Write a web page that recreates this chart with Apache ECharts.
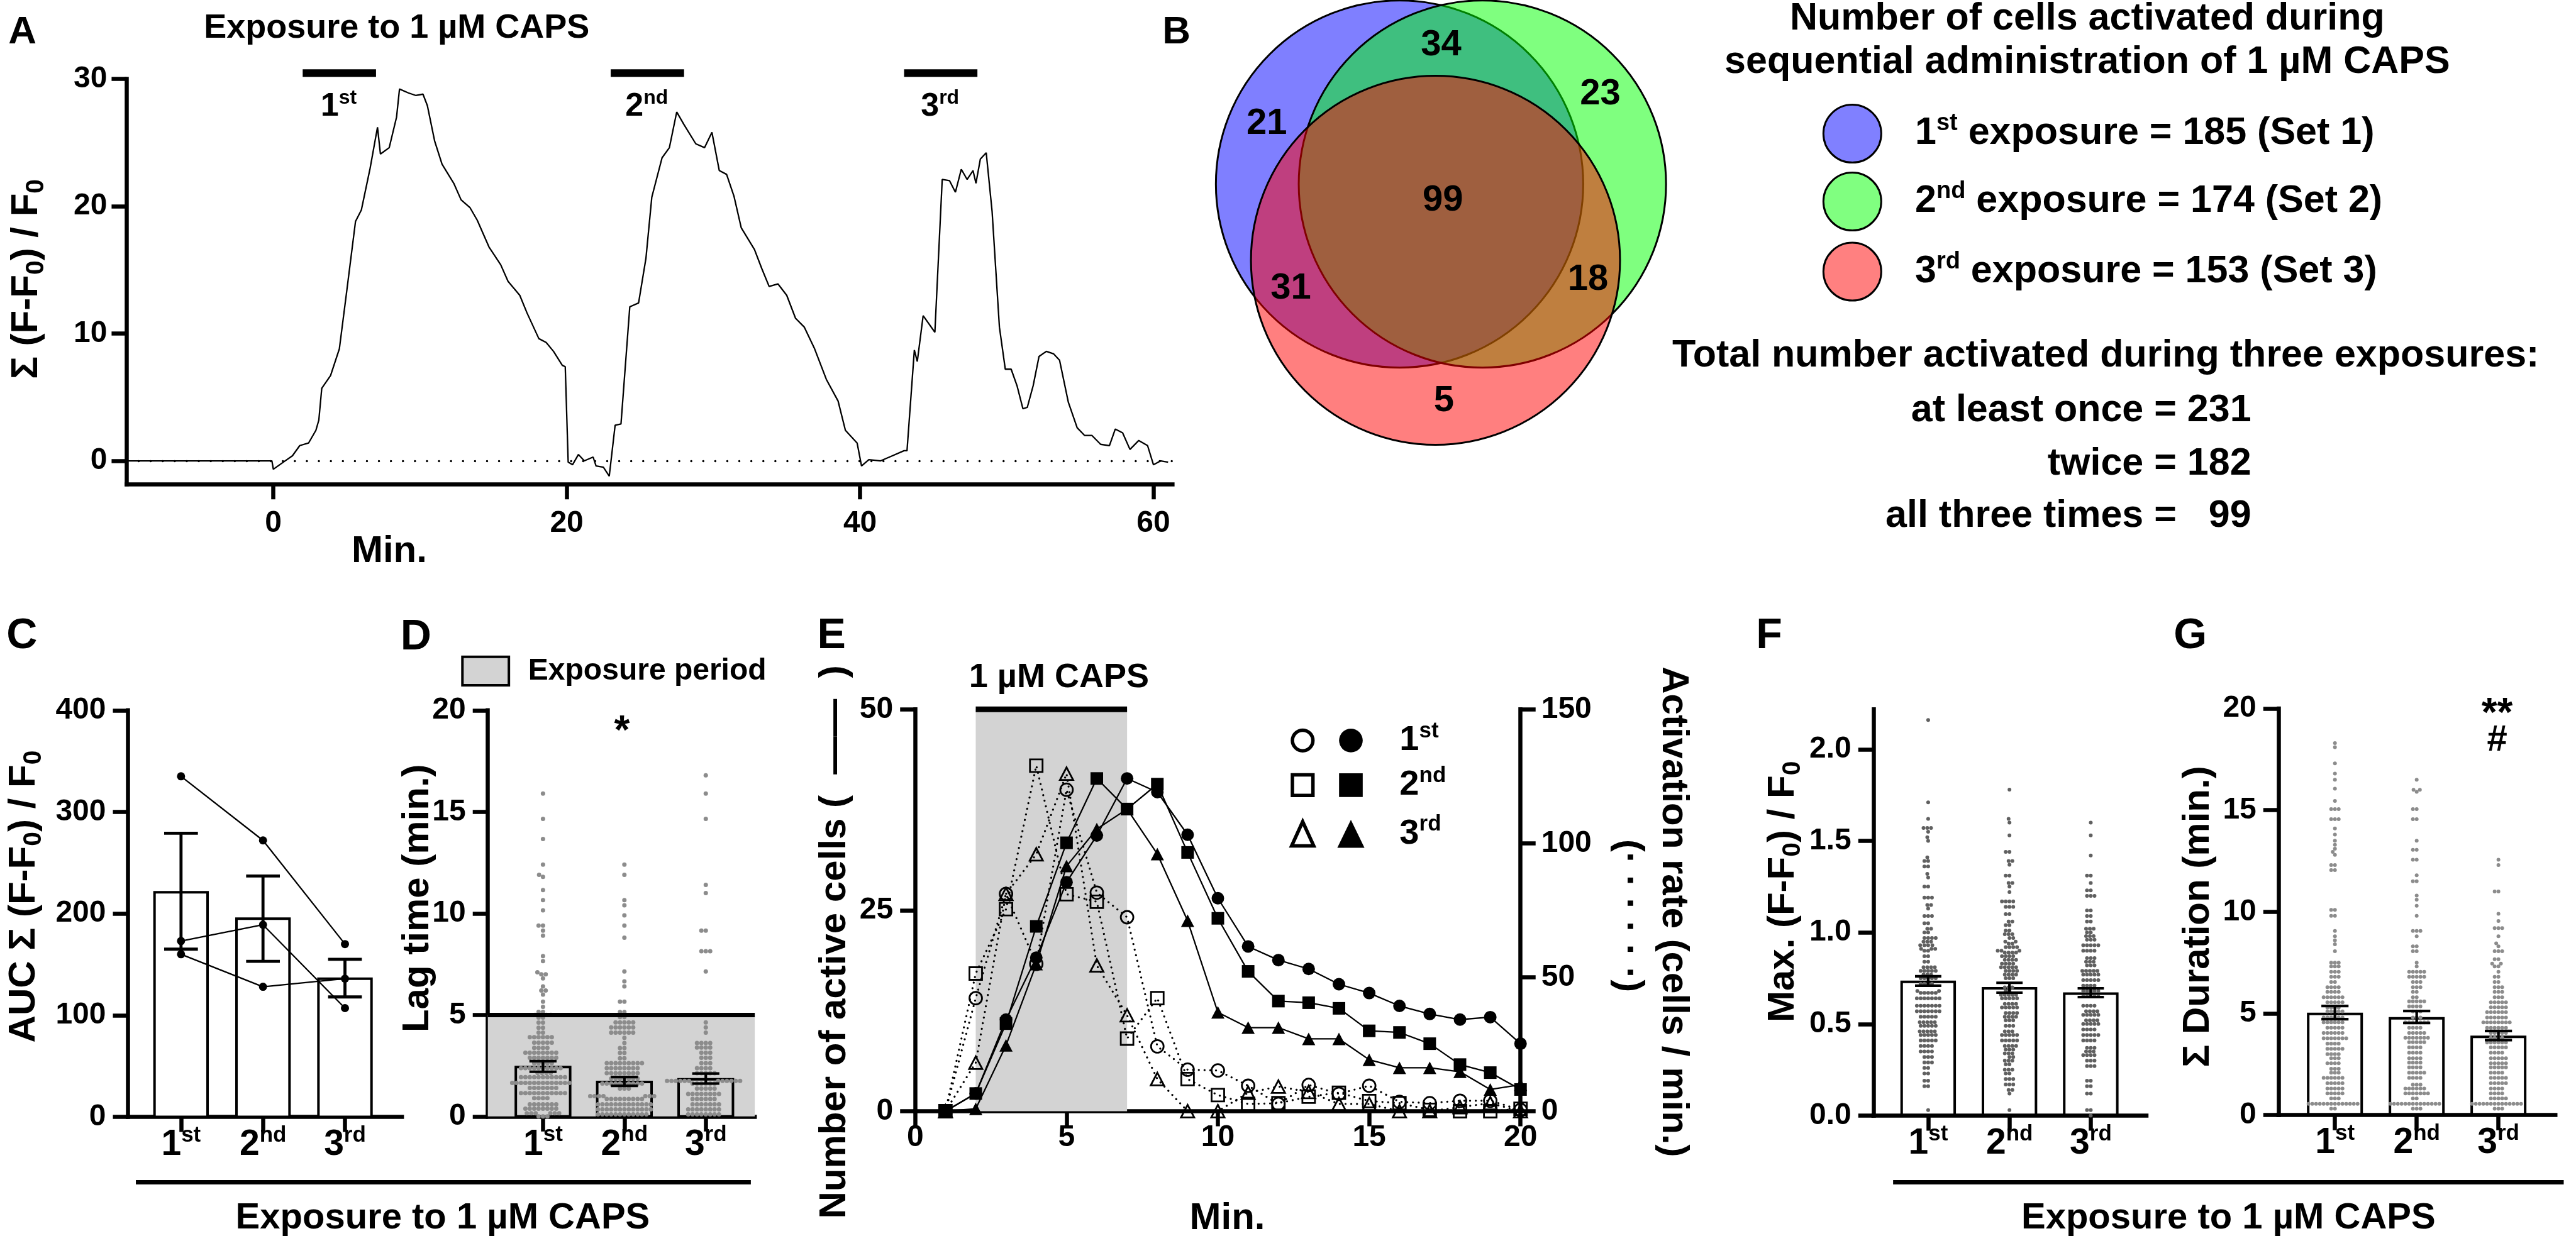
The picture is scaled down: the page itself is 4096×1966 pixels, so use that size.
<!DOCTYPE html>
<html><head><meta charset="utf-8">
<script src="https://cdn.jsdelivr.net/npm/echarts@6.0.0/dist/echarts.min.js"></script>
<style>html,body{margin:0;padding:0;background:#fff;}#chart{width:4096px;height:1966px;}</style>
</head><body><div id="chart"></div>
<script>
// ================= DATA =================
// Panel A: summed response trace
const traceTime = [-10,-0.1,0,0.8,1.3,1.8,2.4,2.9,3.1,3.3,3.9,4.5,5.0,5.6,6.0,6.6,7.1,7.3,7.9,8.4,8.6,9.2,9.7,10.2,10.5,11.0,11.5,12.3,12.8,13.4,13.9,14.7,15.5,16.0,16.8,17.3,18.1,18.6,19.1,19.7,19.9,20.1,20.4,20.8,21.2,21.8,22.0,22.5,22.9,23.3,23.7,24.3,24.9,25.4,25.8,26.5,27.0,27.5,28.0,28.8,29.4,29.9,30.4,30.9,31.4,31.9,32.8,33.3,33.8,34.4,35.0,35.6,36.2,36.9,37.7,38.5,39.0,39.8,40.1,40.6,41.4,42.2,43.0,43.2,43.7,43.9,44.3,45.1,45.6,46.1,46.5,46.9,47.3,47.7,47.9,48.2,48.6,49.0,49.5,49.9,50.3,50.7,51.1,51.4,51.8,52.2,52.7,53.2,53.6,54.2,54.8,55.3,55.8,56.4,57.0,57.4,57.9,58.4,59.0,59.6,60.0,60.5,61.0];
const traceValue = [0,0,-0.66,0,0.4,1.2,1.4,2.4,3.2,5.7,6.7,8.8,13.3,18.8,19.7,23.0,26.2,24.1,24.6,27.0,29.2,28.9,28.7,28.8,27.9,25.1,23.3,21.8,20.5,19.9,18.9,16.8,15.4,14.1,13.0,11.6,9.6,9.3,8.6,7.5,7.4,-0.1,-0.3,0.5,0,0.3,-0.4,-0.5,-1.2,2.8,2.9,12.1,12.4,15.9,20.7,23.8,24.6,27.4,26.4,24.9,24.6,25.8,22.8,22.5,20.8,18.3,16.6,15.1,13.7,13.9,13.0,11.2,10.5,8.8,6.4,4.7,2.4,1.4,-0.4,0.1,0,0.4,0.8,0.8,8.7,7.8,11.4,10.1,22.1,22.0,21.1,22.9,22.1,22.8,21.8,23.7,24.2,19.6,10.5,7.2,7.2,5.9,4.1,4.2,5.9,8.2,8.6,8.4,7.9,4.6,2.6,2.0,2.0,1.3,1.2,2.5,2.2,0.9,1.6,1.2,-0.3,0,-0.1];
const exposureWindowsA = [[2,7],[23,28],[43,48]];
const exposureNames = ['1st','2nd','3rd'];
const capsLabel = '1 µM CAPS';

// Panel B: Venn counts
const vennRegions = ['1','2','3','12','13','23','123'];
const vennCounts = [21,23,5,34,31,18,99];
const setSizes = [185,174,153];
const totalLabels = ['at least once','twice','all three times'];
const totalValues = [231,182,99];

// Panel C: AUC
const aucMean = [221,195,136];
const aucSemLow = [165,153,118];
const aucSemHigh = [279,237,155];
const aucExperiment1 = [335,272,170];
const aucExperiment2 = [173,189,107];
const aucExperiment3 = [160,128,136];

// Panel D: lag time  [value, number of cells]
const lagMean = [2.43,1.70,1.83];
const lagSemLow = [2.20,1.51,1.62];
const lagSemHigh = [2.72,1.94,2.11];
const lagExposurePeriod = 5;
const lagCells1 = [[15.9,1],[14.65,1],[13.66,1],[12.4,1],[11.9,1],[11.8,1],[11.15,1],[10.65,1],[10.15,1],[9.4,2],[9.15,1],[8.9,1],[7.9,1],[7.65,1],[7.1,1],[7.0,2],[6.8,1],[6.4,1],[6.2,2],[6.0,1],[5.65,1],[5.4,1],[5.15,2],[5.0,3],[4.87,2],[4.62,2],[4.37,2],[4.13,2],[3.9,6],[3.63,5],[3.38,4],[3.14,8],[2.89,7],[2.63,5],[2.38,10],[2.15,4],[1.94,11],[1.65,14],[1.4,7],[1.15,11],[0.9,4],[0.6,7],[0.38,8],[0.16,6],[0,3]];
const lagCells2 = [[12.4,1],[11.9,1],[10.65,1],[10.4,1],[9.9,1],[9.4,1],[8.8,1],[7.14,1],[6.65,1],[6.4,1],[5.65,2],[5.14,2],[4.89,2],[4.63,5],[4.38,6],[4.13,6],[3.87,1],[3.62,1],[3.37,2],[3.13,2],[2.87,2],[2.63,9],[2.38,8],[2.13,8],[1.87,7],[1.62,10],[1.37,3],[1.0,7],[0.86,9],[0.6,13],[0.35,13],[0.1,12]];
const lagCells3 = [[16.8,1],[15.9,1],[14.65,1],[11.4,1],[11.0,1],[9.15,2],[8.14,3],[7.14,1],[4.63,1],[4.38,1],[4.13,1],[3.62,4],[3.39,4],[3.14,3],[2.89,3],[2.63,3],[2.38,4],[2.13,5],[1.75,12],[1.62,6],[1.37,5],[1.11,8],[0.86,6],[0.6,7],[0.35,8],[0.1,8]];
const lagSignificance = ['','*',''];

// Panel E: active cells per minute (solid) and activation rate (dotted)
const eMinutes = [1,2,3,4,5,6,7,8,9,10,11,12,13,14,15,16,17,18,19,20];
const eExposure = [2,7];
const activeCells1 = [0,2.2,11.4,19.1,28.5,34.3,41.4,39.7,34.4,26.5,20.5,18.8,17.7,15.8,14.7,13.1,12.1,11.4,11.7,8.4];
const activeCells2 = [0,2.2,10.9,23.0,33.4,41.4,37.6,40.7,32.2,24.0,17.4,13.7,13.5,12.8,10.0,9.8,8.4,5.8,4.8,2.7];
const activeCells3 = [0,0.3,8.2,18.3,30.5,35.1,37.6,32.0,23.7,12.3,10.4,10.4,9.0,9.0,6.4,5.4,5.4,4.9,2.7,3.3];
const activationRate1 = [0,42.2,81.1,55,120,81.6,72.4,24.2,15.5,15.2,9.5,2.7,9.8,6.5,9.5,3.5,3.0,3.9,3.9,0.5];
const activationRate2 = [0,51.4,75.4,129,81,78.2,27.1,42.2,12.0,6.0,2.7,3.0,5.4,6.9,3.8,3.0,0.5,0,0,0.9];
const activationRate3 = [0,18.1,81.1,95.9,126,54.4,35.8,12.0,0,0,6.9,9.2,7.2,2.7,2.7,0,0,1.5,3.0,0];

// Panel F: max response  [value, number of cells]
const maxMean = [0.730,0.695,0.666];
const maxSemLow = [0.709,0.671,0.647];
const maxSemHigh = [0.761,0.725,0.695];
const maxCells1 = [[2.16,1],[1.71,1],[1.62,1],[1.57,3],[1.55,1],[1.52,1],[1.50,1],[1.41,1],[1.39,2],[1.36,2],[1.32,1],[1.30,1],[1.25,2],[1.19,3],[1.15,2],[1.13,1],[1.09,3],[1.05,2],[1.02,2],[1.00,2],[0.97,4],[0.95,3],[0.93,4],[0.91,3],[0.90,2],[0.87,2],[0.84,2],[0.81,4],[0.79,5],[0.77,3],[0.75,5],[0.72,4],[0.68,2],[0.67,5],[0.64,7],[0.60,7],[0.57,7],[0.54,5],[0.51,5],[0.49,5],[0.46,5],[0.44,5],[0.41,5],[0.38,4],[0.35,4],[0.32,3],[0.29,3],[0.26,2],[0.23,2],[0.19,2],[0.16,2],[0.03,1]];
const maxCells2 = [[1.78,1],[1.62,1],[1.60,1],[1.53,1],[1.44,2],[1.39,2],[1.37,1],[1.31,2],[1.27,2],[1.25,1],[1.22,1],[1.17,4],[1.14,3],[1.10,2],[1.06,2],[1.04,2],[1.01,2],[0.99,3],[0.97,2],[0.95,2],[0.94,2],[0.92,4],[0.90,3],[0.89,4],[0.87,4],[0.85,4],[0.83,4],[0.81,5],[0.79,4],[0.77,4],[0.75,3],[0.70,3],[0.68,2],[0.66,5],[0.64,5],[0.61,4],[0.59,5],[0.56,4],[0.54,4],[0.52,3],[0.49,3],[0.46,3],[0.44,5],[0.41,5],[0.38,4],[0.36,3],[0.34,3],[0.32,2],[0.30,3],[0.28,2],[0.25,3],[0.23,2],[0.20,3],[0.17,3],[0.14,2],[0.12,1],[0.03,1]];
const maxCells3 = [[1.60,1],[1.53,1],[1.42,1],[1.31,2],[1.27,1],[1.23,2],[1.20,3],[1.12,2],[1.09,2],[1.06,2],[1.02,3],[1.00,2],[0.98,3],[0.96,3],[0.93,5],[0.90,4],[0.86,3],[0.84,3],[0.82,3],[0.79,5],[0.77,5],[0.74,5],[0.71,4],[0.68,5],[0.65,5],[0.60,4],[0.57,4],[0.55,5],[0.52,4],[0.50,5],[0.47,4],[0.44,5],[0.41,4],[0.37,3],[0.35,3],[0.33,4],[0.30,3],[0.27,3],[0.19,2],[0.16,2],[0.12,2],[0.03,2],[0.0,1]];

// Panel G: summed duration  [value, number of cells]
const durMean = [4.98,4.76,3.85];
const durSemLow = [4.72,4.53,3.69];
const durSemHigh = [5.37,5.12,4.14];
const durCells1 = [[18.3,1],[18.1,1],[17.3,1],[16.8,1],[16.5,1],[16.06,1],[15.45,1],[15.05,3],[14.56,3],[14.1,1],[13.8,1],[13.5,1],[13.3,1],[13.1,1],[12.95,1],[12.8,1],[12.3,2],[12.05,2],[10.1,2],[9.8,2],[9.06,1],[8.8,1],[8.6,1],[8.4,1],[8.06,1],[7.5,3],[7.31,3],[7.05,3],[6.8,3],[6.55,2],[6.29,4],[6.06,4],[5.8,6],[5.55,5],[5.29,4],[5.1,5],[4.8,6],[4.56,6],[4.3,5],[4.04,6],[3.78,7],[3.52,4],[3.26,5],[3.0,4],[2.8,3],[2.55,4],[2.28,3],[2.09,3],[1.83,6],[1.57,5],[1.31,5],[1.07,5],[0.82,3],[0.56,14],[0.32,2]];
const durCells2 = [[16.5,1],[16.0,2],[15.9,1],[15.05,2],[14.56,2],[13.5,1],[13.05,2],[12.56,2],[11.8,1],[11.5,2],[10.8,1],[10.6,1],[10.3,1],[9.8,1],[9.06,3],[8.8,1],[8.3,2],[8.06,2],[7.5,1],[7.31,1],[7.05,5],[6.8,5],[6.55,3],[6.29,3],[6.06,2],[5.8,2],[5.6,5],[5.35,4],[5.1,3],[4.8,3],[4.56,7],[4.3,4],[4.04,5],[3.8,7],[3.59,5],[3.33,4],[3.07,4],[2.8,4],[2.58,4],[2.35,4],[2.09,5],[1.83,4],[1.5,3],[1.31,6],[1.07,7],[0.82,2],[0.56,14],[0.32,3]];
const durCells3 = [[12.56,1],[12.3,1],[11.0,2],[9.9,1],[9.55,1],[9.2,3],[8.8,1],[8.45,1],[8.3,1],[8.06,3],[7.67,2],[7.45,2],[7.31,2],[7.05,1],[6.8,2],[6.55,2],[6.29,3],[6.06,3],[5.8,3],[5.55,5],[5.3,5],[5.06,6],[4.8,6],[4.56,8],[4.3,6],[4.04,5],[3.8,4],[3.57,6],[3.33,5],[3.07,4],[2.8,5],[2.55,5],[2.35,5],[2.09,4],[1.83,5],[1.57,5],[1.31,4],[1.07,4],[0.82,5],[0.56,14],[0.32,3]];
const durSignificance = ['','','**'];
const durSignificance2 = ['','','#'];

// ================= LAYOUT =================
const S = 4096/5877;               // reference px -> page px
const f = v => v*S;
const FONT = '"Liberation Sans", Arial, Helvetica, sans-serif';
const K = '#000';
const AXW = 6.5, TICKLEN = 24;

const GR = {
  A:{l:289,r:2675,t:180,b:1105},
  C:{l:292,r:917,t:1621,b:2549},
  D:{l:1113,r:1722,t:1621,b:2548},
  E:{l:2088,r:3469,t:1619,b:2536},
  F:{l:4274,r:4897,t:1619,b:2546},
  G:{l:5198,r:5830,t:1617,b:2545}
};
function gridOf(g){return {left:f(g.l),top:f(g.t),width:f(g.r-g.l),height:f(g.b-g.t),containLabel:false,outerBoundsMode:'none',show:false};}

function ordRich(name){const m=name.match(/^(\d+)(\D+)$/);return '{m|'+m[1]+'}{s|'+m[2]+'}';}
function ordStyle(size){
  return {m:{fontSize:size,fontWeight:'bold',fontFamily:FONT,color:K,fill:K,lineHeight:Math.round(size*1.15)},
          s:{fontSize:Math.round(size*0.62),fontWeight:'bold',fontFamily:FONT,color:K,fill:K,verticalAlign:'top',lineHeight:Math.round(size*0.68)},
          t:{fontSize:size,fontWeight:'bold',fontFamily:FONT,color:K,fill:K,lineHeight:Math.round(size*1.15)}};
}
function subStyle(size){
  return {n:{fontSize:size,fontWeight:'bold',fontFamily:FONT,fill:K,color:K,lineHeight:Math.round(size*1.2)},
          b:{fontSize:Math.round(size*0.68),fontWeight:'bold',fontFamily:FONT,fill:K,color:K,verticalAlign:'bottom',lineHeight:Math.round(size*0.68)}};
}

function valueAxis(gi, min, max, extra){
  const o = {type:'value',gridIndex:gi,min:min,max:max,
    axisLine:{show:true,onZero:false,lineStyle:{color:K,width:AXW,cap:'square'}},
    axisTick:{show:true,inside:false,length:TICKLEN,lineStyle:{color:K,width:AXW}},
    splitLine:{show:false},
    axisLabel:{show:true,color:K,fontFamily:FONT,fontWeight:'bold',fontSize:48,margin:35,showMinLabel:true,showMaxLabel:true}};
  if(extra){
    if(extra.interval!==undefined) o.interval=extra.interval;
    if(extra.ticks){o.axisTick.customValues=extra.ticks;o.axisLabel.customValues=extra.ticks;}
    if(extra.margin!==undefined) o.axisLabel.margin=extra.margin;
    if(extra.formatter) o.axisLabel.formatter=extra.formatter;
    if(extra.position) o.position=extra.position;
  }
  return o;
}
function catAxis(gi,min,max){
  const o = valueAxis(gi,min,max,{ticks:[1,2,3],margin:12});
  o.axisLabel.formatter = v => ordRich(exposureNames[Math.round(v)-1]);
  o.axisLabel.rich = ordStyle(57);
  return o;
}

// beeswarm: offsets (page px) so that dots do not overlap
function swarm(pairs, cat, pxPerUnit, dist){
  const vals=[]; pairs.forEach(p=>{for(let i=0;i<p[1];i++) vals.push(p[0]);});
  vals.sort((a,b)=>a-b);
  const placed=[];
  vals.forEach(v=>{
    const y=v*pxPerUnit, iv=[];
    placed.forEach(q=>{const dy=Math.abs(q.y-y); if(dy<dist-1e-9){const dx=Math.sqrt(dist*dist-dy*dy); iv.push([q.x-dx,q.x+dx]);}});
    const c=[0]; iv.forEach(a=>{c.push(a[0],a[1]);});
    c.sort((a,b)=>(Math.abs(a)-Math.abs(b))||(a-b));
    let x=0;
    for(const cc of c){ if(iv.every(a=>cc<=a[0]+1e-6||cc>=a[1]-1e-6)){x=cc;break;} }
    placed.push({x:x,y:y,v:v});
  });
  return placed.map(p=>[cat,p.v,p.x]);
}
function swarmSeries(xi,yi,data,r,color){
  return {type:'custom',xAxisIndex:xi,yAxisIndex:yi,data:data,silent:true,z:3,clip:false,
    renderItem:(params,api)=>{const p=api.coord([api.value(0),api.value(1)]);
      return {type:'circle',shape:{cx:p[0]+api.value(2),cy:p[1],r:r},style:{fill:color}};}};
}
function barSeries(xi,yi,means,bw,fill){
  return {type:'custom',xAxisIndex:xi,yAxisIndex:yi,silent:true,z:2,clip:false,
    data:means.map((m,i)=>[i+1,m]),
    renderItem:(params,api)=>{const p0=api.coord([api.value(0),0]),p1=api.coord([api.value(0),api.value(1)]);
      return {type:'rect',shape:{x:p0[0]-bw/2,y:p1[1],width:bw,height:p0[1]-p1[1]},style:{fill:fill,stroke:K,lineWidth:4}};}};
}
function errSeries(xi,yi,lo,hi,cap,lw){
  return {type:'custom',xAxisIndex:xi,yAxisIndex:yi,silent:true,z:6,clip:false,
    data:lo.map((l,i)=>[i+1,l,hi[i]]),
    renderItem:(params,api)=>{const a=api.coord([api.value(0),api.value(1)]),b=api.coord([api.value(0),api.value(2)]);
      const st={stroke:K,lineWidth:lw};
      return {type:'group',children:[
        {type:'line',shape:{x1:a[0],y1:a[1],x2:b[0],y2:b[1]},style:st},
        {type:'line',shape:{x1:a[0]-cap/2,y1:a[1],x2:a[0]+cap/2,y2:a[1]},style:st},
        {type:'line',shape:{x1:b[0]-cap/2,y1:b[1],x2:b[0]+cap/2,y2:b[1]},style:st}]};}};
}
function pairs(xs,ys){return xs.map((x,i)=>[x,ys[i]]);}

function txt(x,y,text,size,opt){
  opt=opt||{};
  const al=opt.align||'center', va=opt.va||'middle';
  const st={text:text,fill:K,font:'bold '+size+'px '+FONT,textAlign:al,textVerticalAlign:va,align:al,verticalAlign:va};
  if(opt.rich) st.rich=opt.rich;
  return {type:'text',x:f(x),y:f(y)+(opt.dy||0),rotation:opt.rot||0,z:50,silent:true,style:st};
}
function hline(x1,x2,y,w){return {type:'line',z:50,silent:true,shape:{x1:f(x1),y1:f(y),x2:f(x2),y2:f(y)},style:{stroke:K,lineWidth:w}};}

// ---------- series ----------
const series = [];
// A
series.push({type:'line',xAxisIndex:0,yAxisIndex:0,data:pairs(traceTime,traceValue),showSymbol:false,symbol:'none',silent:true,z:4,
  lineStyle:{color:K,width:2.3},
  markLine:{silent:true,symbol:'none',label:{show:false},animation:false,
    lineStyle:{color:K,width:3.4,type:[0.1,19],cap:'round'},data:[{yAxis:0}]}});
series.push({type:'custom',xAxisIndex:0,yAxisIndex:0,silent:true,z:5,clip:false,
  data:exposureWindowsA.map((w,i)=>[w[0],w[1],i]),
  renderItem:(params,api)=>{
    const s=api.value(0),e=api.value(1),i=api.value(2);
    const a=api.coord([s,30.45]),b=api.coord([e,30.45]),c=api.coord([(s+e)/2-0.05,27.8]);
    return {type:'group',children:[
      {type:'line',shape:{x1:a[0],y1:a[1],x2:b[0],y2:b[1]},style:{stroke:K,lineWidth:12}},
      {type:'text',x:c[0],y:c[1],style:{text:ordRich(exposureNames[i]),rich:ordStyle(52),textAlign:'center',textVerticalAlign:'middle',align:'center',verticalAlign:'middle'}}]};}});

// C
series.push(barSeries(1,1,aucMean,f(121),'#fff'));
series.push(errSeries(1,1,aucSemLow,aucSemHigh,f(77),4.8));
[aucExperiment1,aucExperiment2,aucExperiment3].forEach(arr=>{
  series.push({type:'line',xAxisIndex:1,yAxisIndex:1,silent:true,z:7,data:arr.map((v,i)=>[i+1,v]),
    symbol:'circle',symbolSize:13,showAllSymbol:true,itemStyle:{color:K},lineStyle:{color:K,width:2.3}});
});

// D
const pxD = f(GR.D.b-GR.D.t)/20;
series.push({type:'line',xAxisIndex:2,yAxisIndex:2,data:[[1,0]],symbol:'none',silent:true,z:1,lineStyle:{opacity:0},
  markArea:{silent:true,itemStyle:{color:'#d3d3d3'},data:[[{yAxis:0},{yAxis:lagExposurePeriod}]]},
  markLine:{silent:true,symbol:'none',label:{show:false},lineStyle:{color:K,width:7,type:'solid'},data:[{yAxis:lagExposurePeriod}]}});
series.push(barSeries(2,2,lagMean,f(124),'rgba(0,0,0,0)'));
[lagCells1,lagCells2,lagCells3].forEach((c,i)=>series.push(swarmSeries(2,2,swarm(c,i+1,pxD,7.0),3.5,'#8c8c8c')));
series.push(errSeries(2,2,lagSemLow,lagSemHigh,f(62),4.2));

// E
series.push({type:'line',xAxisIndex:3,yAxisIndex:3,data:[[1,0]],symbol:'none',silent:true,z:1,lineStyle:{opacity:0},
  markArea:{silent:true,itemStyle:{color:'#d3d3d3'},data:[[{xAxis:eExposure[0]},{xAxis:eExposure[1]}]]}});
series.push({type:'custom',xAxisIndex:3,yAxisIndex:3,silent:true,z:5,clip:false,data:[[eExposure[0],eExposure[1]]],
  renderItem:(params,api)=>{
    const s=api.value(0),e=api.value(1);
    const a=api.coord([s,50]),b=api.coord([e,50]),c=api.coord([(s+e)/2+0.25,53.9]);
    return {type:'group',children:[
      {type:'line',shape:{x1:a[0],y1:a[1],x2:b[0],y2:b[1]},style:{stroke:K,lineWidth:9}},
      {type:'text',x:c[0],y:c[1],style:{text:capsLabel,font:'bold 54px '+FONT,fill:K,textAlign:'center',textVerticalAlign:'middle',align:'center',verticalAlign:'middle'}}]};}});
const eSymbols=['circle','rect','triangle'];
[activationRate1,activationRate2,activationRate3].forEach((arr,i)=>{
  series.push({type:'line',xAxisIndex:3,yAxisIndex:4,silent:true,z:3,data:pairs(eMinutes,arr),
    symbol:eSymbols[i],symbolSize:i===2?[21,20]:20,showAllSymbol:true,
    itemStyle:{color:'rgba(0,0,0,0)',borderColor:K,borderWidth:2.8},
    lineStyle:{color:K,width:3.2,type:[0.1,9],cap:'round'}});
});
[activeCells1,activeCells2,activeCells3].forEach((arr,i)=>{
  series.push({type:'line',xAxisIndex:3,yAxisIndex:3,silent:true,z:4,data:pairs(eMinutes,arr),
    symbol:eSymbols[i],symbolSize:i===2?[21,20]:20,showAllSymbol:true,
    itemStyle:{color:K},lineStyle:{color:K,width:2.3}});
});

// F
const pxF = f(GR.F.b-GR.F.t)/2.218;
series.push(barSeries(4,5,maxMean,f(121),'rgba(0,0,0,0)'));
[maxCells1,maxCells2,maxCells3].forEach((c,i)=>series.push(swarmSeries(4,5,swarm(c,i+1,pxF,6.0),3.0,'#606060')));
series.push(errSeries(4,5,maxSemLow,maxSemHigh,f(60),4.2));

// G
const pxG = f(GR.G.b-GR.G.t)/20;
series.push(barSeries(5,6,durMean,f(122),'rgba(0,0,0,0)'));
[durCells1,durCells2,durCells3].forEach((c,i)=>series.push(swarmSeries(5,6,swarm(c,i+1,pxG,6.0),3.0,'#8c8c8c')));
series.push(errSeries(5,6,durSemLow,durSemHigh,f(62),4.2));

// ---------- graphic ----------
const gfx = [];
// panel letters
[['A',51,75,62],['B',2684,75,62],['C',50,1452,68],['D',949,1455,68],['E',1897,1453,68],['F',4036,1452,68],['G',4997,1452,68]]
  .forEach(a=>gfx.push(txt(a[1],a[2],a[0],a[3])));
// titles / axis names
const R90=Math.PI/2;
gfx.push(txt(905,65,'Exposure to '+capsLabel,54));
gfx.push(txt(61,637,'{n|Σ (F-F}{b|0}{n|) / F}{b|0}',60,{rot:R90,rich:subStyle(60)}));
gfx.push(txt(888,1259,'Min.',60));
gfx.push(txt(55,2046,'{n|AUC Σ (F-F}{b|0}{n|) / F}{b|0}',60,{rot:R90,rich:subStyle(60)}));
gfx.push(txt(954,2050,'Lag time (min.)',60,{rot:R90}));
gfx.push(txt(1905,2150,'Number of active cells (  ——  )',60,{rot:R90}));
gfx.push(txt(3817,2081,'Activation rate (cells / min.)',60,{rot:-R90}));
gfx.push(txt(3715,2090,'(· · · · · ·)',60,{rot:-R90}));
gfx.push(txt(2800,2781,'Min.',60));
gfx.push(txt(4068,2035,'{n|Max. (F-F}{b|0}{n|) / F}{b|0}',60,{rot:R90,rich:subStyle(60)}));
gfx.push(txt(5016,2092,'Σ Duration (min.)',60,{rot:R90}));
// bottom group labels
gfx.push(hline(310,1713,2698,7));
gfx.push(txt(1010,2781,'Exposure to '+capsLabel,58));
gfx.push(hline(4319,5849,2698,7));
gfx.push(txt(5084,2781,'Exposure to '+capsLabel,58));
// D legend
gfx.push({type:'rect',z:50,silent:true,shape:{x:f(1055),y:f(1499),width:f(106),height:f(65)},style:{fill:'#d3d3d3',stroke:K,lineWidth:4}});
gfx.push(txt(1205,1532,'Exposure period',48,{align:'left'}));
// significance marks
const catXD=[1239,1425,1610], catXG=[5327,5513,5700];
lagSignificance.forEach((s,i)=>{if(s) gfx.push(txt(catXD[i]-6,1651,s,64,{dy:15}));});
durSignificance.forEach((s,i)=>{if(s) gfx.push(txt(catXG[i]-3,1610,s,64,{dy:15}));});
durSignificance2.forEach((s,i)=>{if(s) gfx.push(txt(catXG[i]-3,1690,s,58));});
// E legend
const rowsE=[1690,1792,1903];
const lr=f(27);
rowsE.forEach((y,i)=>{
  const cy=f(y), xo=f(2972), xf=f(3082);
  if(i===0){
    gfx.push({type:'circle',z:50,silent:true,shape:{cx:xo,cy:cy,r:lr-2.5},style:{fill:'none',stroke:K,lineWidth:5.5}});
    gfx.push({type:'circle',z:50,silent:true,shape:{cx:xf,cy:cy,r:lr},style:{fill:K}});
  } else if(i===1){
    gfx.push({type:'rect',z:50,silent:true,shape:{x:xo-lr+2.5,y:cy-lr+2.5,width:2*lr-5,height:2*lr-5},style:{fill:'none',stroke:K,lineWidth:5.5}});
    gfx.push({type:'rect',z:50,silent:true,shape:{x:xf-lr,y:cy-lr,width:2*lr,height:2*lr},style:{fill:K}});
  } else {
    const w=f(31),h=f(32);
    gfx.push({type:'polygon',z:50,silent:true,shape:{points:[[xo,cy-h+3],[xo+w-4,cy+h-3],[xo-w+4,cy+h-3]]},style:{fill:'none',stroke:K,lineWidth:5.5,lineJoin:'miter'}});
    gfx.push({type:'polygon',z:50,silent:true,shape:{points:[[xf,cy-h],[xf+w,cy+h],[xf-w,cy+h]]},style:{fill:K}});
  }
  gfx.push(txt(3193,y,ordRich(exposureNames[i]),56,{align:'left',rich:ordStyle(56)}));
});
// B: Venn diagram
const vennCircles=[{cx:3193,cy:420,r:419,c:'rgba(0,0,255,0.5)'},{cx:3382,cy:420,r:419,c:'rgba(0,255,0,0.5)'},{cx:3275,cy:594,r:421,c:'rgba(255,0,0,0.5)'}];
vennCircles.forEach(v=>gfx.push({type:'circle',z:40,silent:true,shape:{cx:f(v.cx),cy:f(v.cy),r:f(v.r)},style:{fill:v.c,stroke:K,lineWidth:3}}));
const vennPos={'1':[2890,283],'2':[3651,215],'3':[3294,915],'12':[3288,104],'13':[2945,658],'23':[3623,638],'123':[3292,458]};
vennRegions.forEach((r,i)=>gfx.push(txt(vennPos[r][0],vennPos[r][1],String(vennCounts[i]),58)));
// B legend
gfx.push(txt(4762,44,'Number of cells activated during',61));
gfx.push(txt(4762,142,'sequential administration of '+capsLabel,61));
const legY=[305,460,620], legC=['#8080ff','#80ff80','#ff8080'];
legY.forEach((y,i)=>{
  gfx.push({type:'circle',z:50,silent:true,shape:{cx:f(4226),cy:f(y),r:f(66)},style:{fill:legC[i],stroke:K,lineWidth:3}});
  const m=exposureNames[i].match(/^(\d+)(\D+)$/);
  gfx.push(txt(4369,y,'{m|'+m[1]+'}{s|'+m[2]+'}{t| exposure = '+setSizes[i]+' (Set '+(i+1)+')}',61,{align:'left',rich:ordStyle(61)}));
});
gfx.push(txt(4804,813,'Total number activated during three exposures:',61));
const totY=[937,1059,1178];
totalLabels.forEach((l,i)=>{
  const val = (i===2?'  ':'')+totalValues[i];
  gfx.push(txt(5136,totY[i],l+' = '+val,61,{align:'right'}));
});

// ---------- option ----------
const option = {
  animation:false,
  backgroundColor:'#fff',
  grid:[gridOf(GR.A),gridOf(GR.C),gridOf(GR.D),gridOf(GR.E),gridOf(GR.F),gridOf(GR.G)],
  xAxis:[
    valueAxis(0,-10,61.3,{ticks:[0,20,40,60],margin:39}),
    catAxis(1,0.353,3.695),
    catAxis(2,0.3226,3.602),
    valueAxis(3,0,20,{interval:5,margin:18}),
    catAxis(4,0.326,3.685),
    catAxis(5,0.308,3.697)
  ],
  yAxis:[
    valueAxis(0,-1.83,30,{ticks:[0,10,20,30],margin:31}),
    valueAxis(1,0,400,{interval:100}),
    valueAxis(2,0,20,{interval:5}),
    valueAxis(3,0,50,{interval:25}),
    valueAxis(3,0,150,{interval:50,position:'right',margin:33}),
    valueAxis(4,0,2.218,{ticks:[0,0.5,1,1.5,2],formatter:v=>v.toFixed(1)}),
    valueAxis(5,0,20,{interval:5})
  ],
  series:series,
  graphic:{elements:gfx}
};
const chart = echarts.init(document.getElementById('chart'),null,{renderer:'canvas',width:4096,height:1966});
chart.setOption(option);
</script></body></html>
